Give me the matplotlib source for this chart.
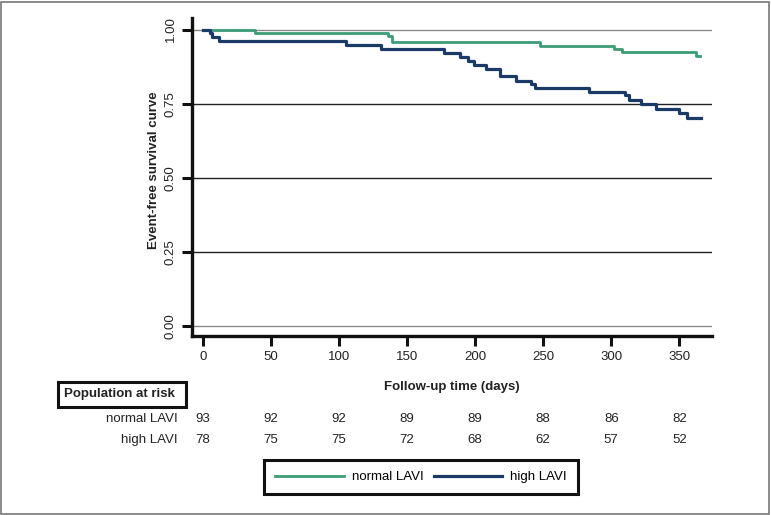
import matplotlib
matplotlib.use("Agg")
import matplotlib.pyplot as plt
from matplotlib.patches import Rectangle
from matplotlib.transforms import blended_transform_factory

plt.rcParams['font.family'] = ['Liberation Sans', 'DejaVu Sans']

# Kaplan-Meier steps
normal_t = [0, 38, 136, 139, 248, 302, 308, 362, 365]
normal_s = [1.0, 0.989, 0.978, 0.957, 0.946, 0.935, 0.924, 0.912, 0.912]
high_t = [0, 5, 7, 12, 105, 131, 177, 189, 195, 199, 208, 218, 230, 241, 244,
          284, 310, 313, 322, 333, 350, 356, 366]
high_s = [1.0, 0.987, 0.974, 0.960, 0.947, 0.933, 0.921, 0.907, 0.894, 0.881,
          0.868, 0.843, 0.828, 0.817, 0.803, 0.790, 0.779, 0.762, 0.749, 0.732,
          0.720, 0.703, 0.703]

risk_times = [0, 50, 100, 150, 200, 250, 300, 350]
risk_normal = [93, 92, 92, 89, 89, 88, 86, 82]
risk_high = [78, 75, 75, 72, 68, 62, 57, 52]
yticks = [0.0, 0.25, 0.5, 0.75, 1.0]

green = '#3c9c76'
navy = '#1c3a66'
txt = '#222222'
fs = 9.5

W, H = 771, 515
fig = plt.figure(figsize=(W / 100, H / 100), dpi=100)
ax = fig.add_axes([192 / W, 1 - 336 / H, (712 - 192) / W, (336 - 18) / H])

for y in yticks:
    c = '#8a8a8a' if y in (0.0, 1.0) else '#222222'
    ax.axhline(y, color=c, lw=1.0, zorder=1)

ax.step(normal_t, normal_s, where='post', color=green, lw=2.0, label='normal LAVI', zorder=3)
ax.step(high_t, high_s, where='post', color=navy, lw=2.3, label='high LAVI', zorder=4)

ax.set_xlim(-8, 374)
ax.set_ylim(-0.034, 1.039)
ax.set_xticks(risk_times)
ax.set_yticks(yticks)
ax.set_yticklabels(['%.2f' % v for v in yticks], rotation=90, va='center')
ax.tick_params(axis='both', direction='out', length=7, width=2.2, labelsize=fs,
               color='#111111', labelcolor=txt, pad=4)
for s in ['top', 'right']:
    ax.spines[s].set_visible(False)
for s in ['left', 'bottom']:
    ax.spines[s].set_linewidth(2.4)
    ax.spines[s].set_color('#111111')

ax.set_ylabel('Event-free survival curve', fontsize=fs, fontweight='bold', color=txt)
ax.yaxis.set_label_coords(-0.062, 0.52)
fig.text(452 / W, 1 - 387 / H, 'Follow-up time (days)', fontsize=fs,
         fontweight='bold', ha='center', va='center', color=txt)

# numbers at risk
tr = blended_transform_factory(ax.transData, fig.transFigure)
for x, a, b in zip(risk_times, risk_normal, risk_high):
    ax.text(x, 1 - 419 / H, str(a), transform=tr, ha='center', va='center', fontsize=fs, color=txt)
    ax.text(x, 1 - 440 / H, str(b), transform=tr, ha='center', va='center', fontsize=fs, color=txt)
fig.text(178 / W, 1 - 419 / H, 'normal LAVI', ha='right', va='center', fontsize=fs, color=txt)
fig.text(178 / W, 1 - 440 / H, 'high LAVI', ha='right', va='center', fontsize=fs, color=txt)

fig.patches.append(Rectangle((58 / W, 1 - 407 / H), 128 / W, 25 / H, transform=fig.transFigure,
                             fill=False, edgecolor='#111111', lw=2.2))
fig.text(64 / W, 1 - 394.5 / H, 'Population at risk', ha='left', va='center', fontsize=fs,
         fontweight='bold', color=txt)

leg = fig.legend(loc='center', bbox_to_anchor=(421 / W, 1 - 477 / H), ncol=2, fontsize=fs,
                 handlelength=5.2, handletextpad=0.6, columnspacing=0.8, borderpad=0.85,
                 borderaxespad=0, fancybox=False, framealpha=1)
leg.get_frame().set_edgecolor('#111111')
leg.get_frame().set_linewidth(2.2)

# outer border of the figure
fig.patches.append(Rectangle((1 / W, 1 / H), (W - 3) / W, (H - 3) / H, transform=fig.transFigure,
                             fill=False, edgecolor='#777777', lw=1.2))

fig.savefig('out.png', dpi=100)
